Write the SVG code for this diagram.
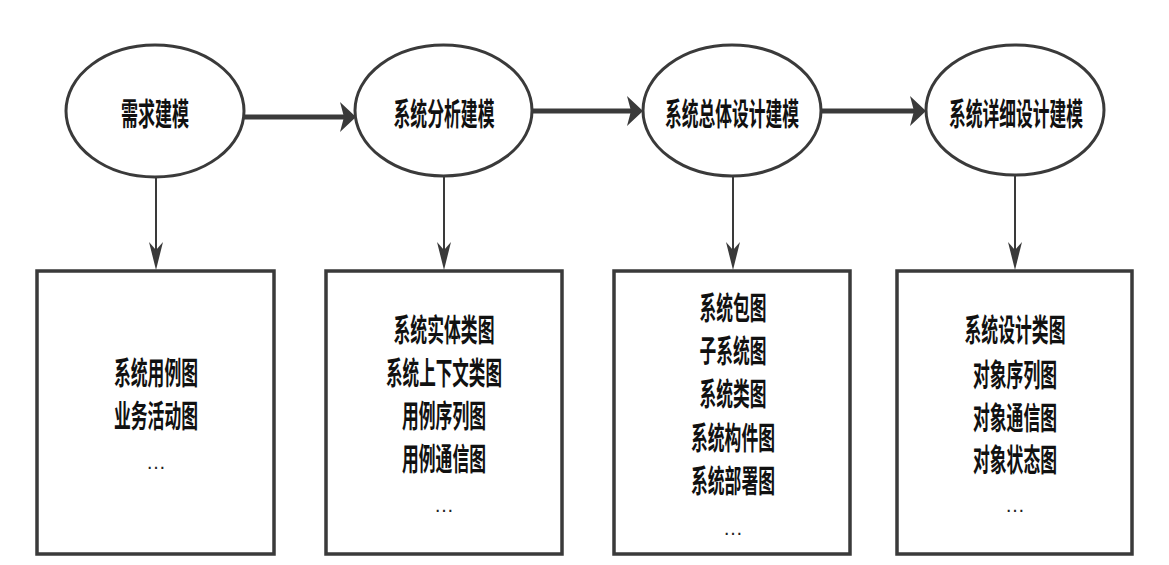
<svg xmlns="http://www.w3.org/2000/svg" width="1169" height="565" viewBox="0 0 1169 565">
<style>
.el{fill:#fff;stroke:#3a3a3a;stroke-width:3}
.bx{fill:#fff;stroke:#3a3a3a;stroke-width:3.5}
.t{font-family:"Noto Sans CJK SC","Noto Sans CJK JP",sans-serif;font-weight:bold;font-size:31px;fill:#111;text-anchor:middle;dominant-baseline:central}
.d{font-family:"Liberation Sans",sans-serif;font-size:20px;fill:#222;text-anchor:middle}
.h{stroke:#3a3a3a;stroke-width:5;fill:none}
.v{stroke:#3a3a3a;stroke-width:2;fill:none}
.ah{fill:#3a3a3a}
</style>
<rect width="1169" height="565" fill="#fff"/>
<g id="connectors">
<line class="h" x1="244" y1="117" x2="346" y2="117"/>
<polygon class="ah" points="356,117 340,102 344,117 340,132"/>
<line class="h" x1="532" y1="111" x2="633" y2="111"/>
<polygon class="ah" points="643,111 627,96 631,111 627,126"/>
<line class="h" x1="821" y1="111" x2="916" y2="111"/>
<polygon class="ah" points="926,111 910,96 914,111 910,126"/>
<line class="v" x1="156" y1="177" x2="156" y2="250"/>
<polygon class="ah" points="156,270 149,242 156,250 163,242"/>
<line class="v" x1="444" y1="176" x2="444" y2="250"/>
<polygon class="ah" points="444,270 437,242 444,250 451,242"/>
<line class="v" x1="733" y1="176" x2="733" y2="250"/>
<polygon class="ah" points="733,270 726,242 733,250 740,242"/>
<line class="v" x1="1015" y1="175" x2="1015" y2="250"/>
<polygon class="ah" points="1015,270 1008,242 1015,250 1022,242"/>
</g>
<g id="n1">
<ellipse class="el" cx="155" cy="111" rx="89" ry="66"/>
<text class="t" x="155" y="111" textLength="68" lengthAdjust="spacingAndGlyphs">需求建模</text>
</g>
<g id="n2">
<ellipse class="el" cx="443.5" cy="110.5" rx="88.5" ry="65.5"/>
<text class="t" x="444" y="111" textLength="101" lengthAdjust="spacingAndGlyphs">系统分析建模</text>
</g>
<g id="n3">
<ellipse class="el" cx="732" cy="110.5" rx="89" ry="65.5"/>
<text class="t" x="732" y="111" textLength="134" lengthAdjust="spacingAndGlyphs">系统总体设计建模</text>
</g>
<g id="n4">
<ellipse class="el" cx="1015" cy="110" rx="89" ry="65"/>
<text class="t" x="1016" y="111" textLength="134" lengthAdjust="spacingAndGlyphs">系统详细设计建模</text>
</g>
<g id="b1">
<rect class="bx" x="37" y="271" width="237" height="283"/>
<text class="t" x="156" y="370" textLength="84" lengthAdjust="spacingAndGlyphs">系统用例图</text>
<text class="t" x="156" y="413" textLength="84" lengthAdjust="spacingAndGlyphs">业务活动图</text>
<text class="d" x="156" y="469">…</text>
</g>
<g id="b2">
<rect class="bx" x="326" y="271" width="236" height="283"/>
<text class="t" x="444" y="327" textLength="101" lengthAdjust="spacingAndGlyphs">系统实体类图</text>
<text class="t" x="444" y="370" textLength="116" lengthAdjust="spacingAndGlyphs">系统上下文类图</text>
<text class="t" x="444" y="413" textLength="84" lengthAdjust="spacingAndGlyphs">用例序列图</text>
<text class="t" x="444" y="456" textLength="84" lengthAdjust="spacingAndGlyphs">用例通信图</text>
<text class="d" x="444" y="512">…</text>
</g>
<g id="b3">
<rect class="bx" x="614" y="271" width="236" height="283"/>
<text class="t" x="733" y="305" textLength="67" lengthAdjust="spacingAndGlyphs">系统包图</text>
<text class="t" x="733" y="348" textLength="67" lengthAdjust="spacingAndGlyphs">子系统图</text>
<text class="t" x="733" y="391" textLength="67" lengthAdjust="spacingAndGlyphs">系统类图</text>
<text class="t" x="733" y="435" textLength="84" lengthAdjust="spacingAndGlyphs">系统构件图</text>
<text class="t" x="733" y="478" textLength="84" lengthAdjust="spacingAndGlyphs">系统部署图</text>
<text class="d" x="733" y="535">…</text>
</g>
<g id="b4">
<rect class="bx" x="897" y="271" width="235" height="283"/>
<text class="t" x="1015" y="327" textLength="101" lengthAdjust="spacingAndGlyphs">系统设计类图</text>
<text class="t" x="1015" y="372" textLength="84" lengthAdjust="spacingAndGlyphs">对象序列图</text>
<text class="t" x="1015" y="415" textLength="84" lengthAdjust="spacingAndGlyphs">对象通信图</text>
<text class="t" x="1015" y="457" textLength="84" lengthAdjust="spacingAndGlyphs">对象状态图</text>
<text class="d" x="1015" y="512">…</text>
</g>
</svg>
